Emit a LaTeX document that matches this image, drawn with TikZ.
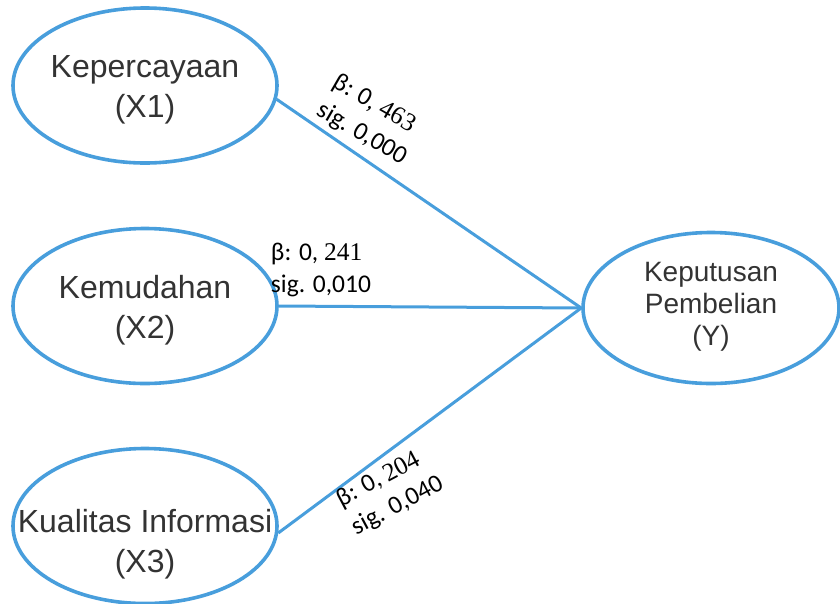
\documentclass[tikz,border=0pt]{standalone}
\usepackage{fontspec}
\setmainfont{Liberation Sans}
\newfontfamily\calfont{Carlito}
\newfontfamily\serfont{Liberation Serif}
\usetikzlibrary{shapes.geometric}
\definecolor{lineblue}{RGB}{72,158,220}
\definecolor{txtgray}{RGB}{51,51,51}
\begin{document}
\begin{tikzpicture}[x=1pt,y=-1pt,
  var/.style={ellipse,draw=lineblue,line width=3.6pt,inner sep=0pt,
    minimum width=264pt,minimum height=155pt},
  vartext/.style={text=txtgray,align=center,inner sep=0pt,font=\fontsize{32}{40}\selectfont},
  conn/.style={draw=lineblue,line width=3pt},
  coef/.style={font=\calfont\fontsize{25.5}{32}\selectfont,align=left,inner sep=0pt}]
\useasboundingbox (0,0) rectangle (840,603);
\node[var] (x1) at (145,85.5) {};
\node[vartext] (x1t) at (145,89.5) {Kepercayaan\\(X1)};
\node[var] (x2) at (145,306) {};
\node[vartext] (x2t) at (145,310) {Kemudahan\\(X2)};
\node[var] (x3) at (145,526) {};
\node[vartext] (x3t) at (145,544) {Kualitas Informasi\\(X3)};
\node[var,minimum width=256pt,minimum height=151pt] (y) at (711,308) {};
\node[vartext,font=\fontsize{28}{32}\selectfont] (yt) at (711,307) {Keputusan\\Pembelian\\(Y)};
\draw[conn] (x1.-6.4) -- (y.west);
\draw[conn] (x2.east) -- (y.west);
\draw[conn] (x3.-3) -- (y.west);
\node[coef,rotate=-30] (c1) at (370,120) {β: 0, {\serfont 463}\\sig. 0,000};
\node[coef] (c2) at (321,270) {β: 0, {\serfont 241}\\sig. 0,010};
\node[coef,rotate=28] (c3) at (390,492) {β: 0, {\serfont 204}\\sig. 0,040};
\end{tikzpicture}
\end{document}
